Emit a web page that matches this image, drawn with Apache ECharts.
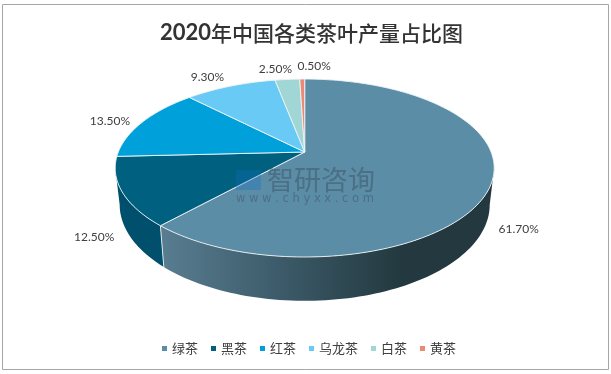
<!DOCTYPE html>
<html><head><meta charset="utf-8">
<style>html,body{margin:0;padding:0;background:#fff}#c{width:611px;height:374px}</style>
<script src="https://cdn.jsdelivr.net/npm/echarts@6/dist/echarts.min.js"></script>
</head><body><div id="c"></div>
<script>
const categories = ['绿茶','黑茶','红茶','乌龙茶','白茶','黄茶'];
const shares = [61.7,12.5,13.5,9.3,2.5,0.5];
const titleYear = '2020';
const titleRest = '年中国各类茶叶产量占比图';

const topColors = ['#5b8ea6','#00607f','#00a0da','#69caf5','#a0d6d6','#e98b74'];
const wallColors = ['#23393f','#004f6c','#00648a','#3f7f9a','#648080','#8c5345'];
// label offsets from the rim point at each slice's middle angle
const labelOffsets = [[28,44],[-28,45],[-32,-1],[-23,-9],[-12,-10],[12,-13]];

const topRing = {cx:304.7, cy:152, a:186.4, b:86.1, p:0.18};
const baseRing = {cx:304.7, cy:187.4, a:182, b:93, p:0.18};
const silhouetteDeg = Math.asin(topRing.p)*180/Math.PI;
const total = shares.reduce((s,v)=>s+v,0);
const starts = shares.map((_,i)=>shares.slice(0,i).reduce((s,v)=>s+v,0));

function proj(r, deg){
  const t = deg*Math.PI/180, X = Math.sin(t), Y = Math.cos(t), w = 1+r.p*Y;
  return [r.cx + r.a*X/w, r.cy - r.b*Y/w];
}
function arc(r, d0, d1){
  const n = Math.max(2, Math.ceil(Math.abs(d1-d0)/1.5)), pts = [];
  for(let i=0;i<=n;i++) pts.push(proj(r, d0+(d1-d0)*i/n));
  return pts;
}
function renderSlice(params, api){
  const i = params.seriesIndex, v = api.value(0);
  const d0 = starts[i]/total*360, d1 = (starts[i]+v)/total*360, mid = (d0+d1)/2;
  const children = [];
  const top = [[topRing.cx,topRing.cy]].concat(arc(topRing,d0,d1));
  // visible side wall: between the two silhouette tangents
  const w0 = Math.max(d0,90+silhouetteDeg), w1 = Math.min(d1,270-silhouetteDeg);
  if(w1>w0){
    const wallPts = arc(topRing,w0,w1).concat(arc(baseRing,w0,w1).reverse());
    const fill = i===0 ? {type:'linear',x:163,y:0,x2:400,y2:0,global:true,colorStops:[
      {offset:0,color:'#587d90'},{offset:.5,color:'#3c5a69'},{offset:1,color:'#23393f'}]} : wallColors[i];
    children.push({type:'polygon',z2:1,shape:{points:wallPts},style:{fill:fill,stroke:null}});
    if(w1<270-silhouetteDeg){ // seam at the end of the wall
      children.push({type:'polyline',z2:2,shape:{points:[proj(topRing,w1),proj(baseRing,w1)]},
        style:{stroke:'#dfe8ec',lineWidth:1,fill:null}});
    }
  }
  children.push({type:'polygon',z2:5,shape:{points:top},
    style:{fill:topColors[i],stroke:'#eef4f6',lineWidth:0.9,lineJoin:'round'}});
  const rim = proj(topRing,mid), off = labelOffsets[i];
  children.push({type:'text',z2:8,style:{text:v.toFixed(2)+'%',x:rim[0]+off[0],y:rim[1]+off[1],
    fill:'#404040',font:'12px Lato, "Noto Sans", sans-serif',align:'center',verticalAlign:'middle'}});
  return {type:'group',children};
}

const chart = echarts.init(document.getElementById('c'),null,{renderer:'canvas'});
chart.setOption({
  animation:false,
  backgroundColor:'#fff',
  title:{
    text:'{d|'+titleYear+'}{c|'+titleRest+'}',
    left:155,top:17,
    textStyle:{rich:{
      d:{fontFamily:'Lato',fontWeight:'bold',fontSize:22,color:'#333'},
      c:{fontFamily:'"Noto Sans CJK SC"',fontSize:21,fontWeight:500,color:'#333'}
    }}
  },
  legend:{
    data:categories,bottom:14,left:157,icon:'rect',itemWidth:5,itemHeight:5,itemGap:13,
    textStyle:{fontFamily:'"Noto Sans CJK SC"',fontSize:13,color:'#404040'}
  },
  graphic:[
    {type:'rect',z:-1,shape:{x:2.5,y:4.5,width:606,height:365},style:{fill:'#fff',stroke:'#a6a6a6',lineWidth:1}},
    {type:'rect',z:50,shape:{x:236,y:170,width:25,height:20},style:{fill:'rgba(20,110,190,.32)'}},
    {type:'text',z:50,style:{text:'智研咨询',x:267,y:180,font:'27px "Noto Sans CJK SC"',fill:'rgba(60,80,100,.5)',verticalAlign:'middle'}},
    {type:'text',z:50,style:{text:'w w w . c h y x x . c o m',x:236,y:199,font:'11.5px "DejaVu Sans"',fill:'rgba(60,80,100,.5)',verticalAlign:'middle'}}
  ],
  series:categories.map((name,i)=>({
    type:'custom',name,coordinateSystem:'none',renderItem:renderSlice,
    itemStyle:{color:topColors[i]},data:[[shares[i]]],silent:true
  }))
});
</script></body></html>
